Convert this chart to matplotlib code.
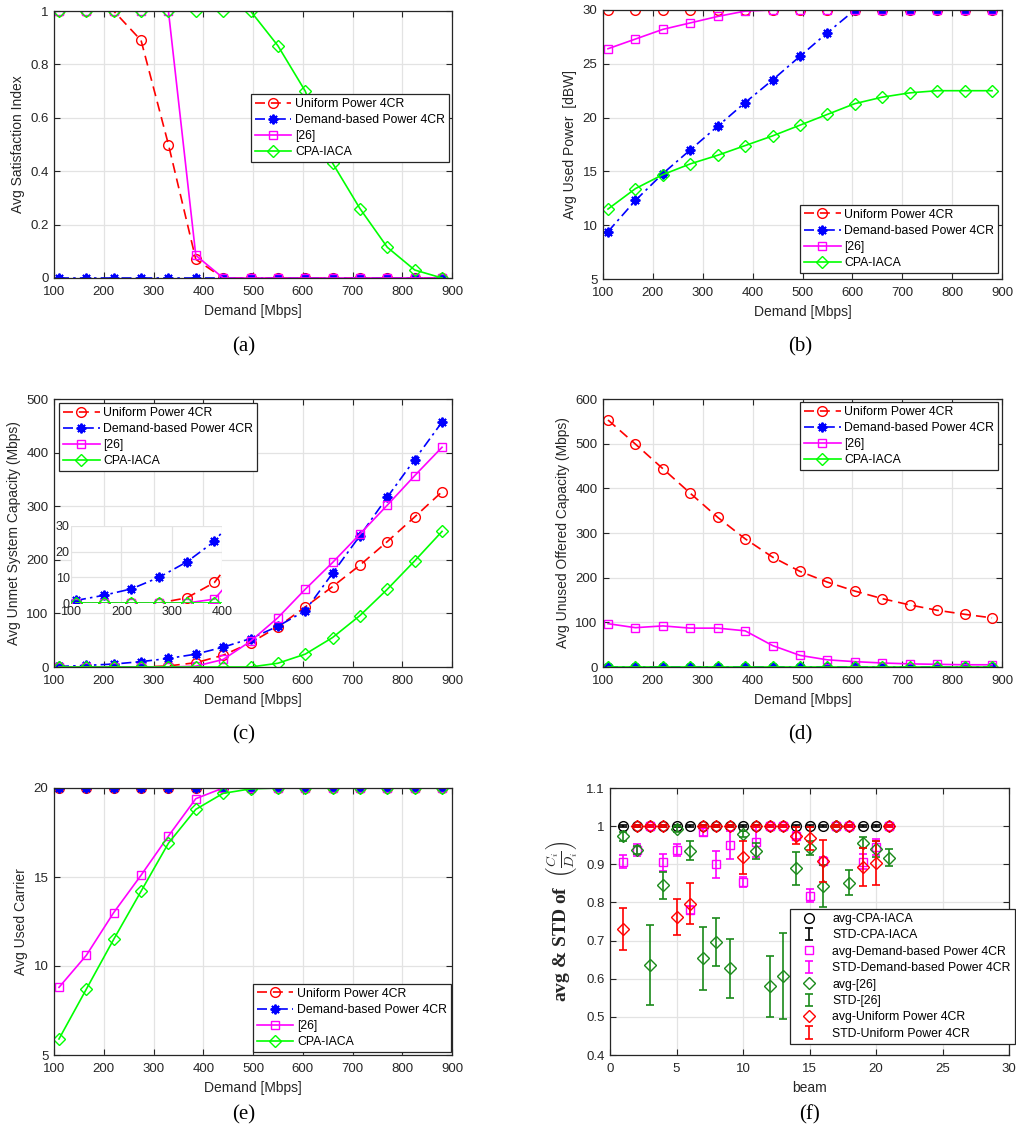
import numpy as np
import matplotlib
matplotlib.use('Agg')
import matplotlib.pyplot as plt

plt.rcParams['font.family'] = ['Liberation Sans', 'DejaVu Sans']
plt.rcParams['mathtext.fontset'] = 'cm'

# demand points [Mbps]
demand = [110, 165, 220, 275, 330, 385, 440, 495, 550, 605, 660, 715, 770, 825, 880]
labels = ['Uniform Power 4CR', 'Demand-based Power 4CR', '[26]', 'CPA-IACA']

# (a) Avg satisfaction index
sat_uni = [1, 1, 1, 0.89, 0.5, 0.07, 0, 0, 0, 0, 0, 0, 0, 0, 0]
sat_dem = [0] * 15
sat_26 = [1, 1, 1, 1, 1, 0.085, 0, 0, 0, 0, 0, 0, 0, 0, 0]
sat_cpa = [1, 1, 1, 1, 1, 1, 1, 1, 0.87, 0.70, 0.43, 0.26, 0.115, 0.03, 0]

# (b) Avg used power [dBW]
pow_uni = [30] * 15
pow_dem = [9.4, 12.3, 14.8, 17.0, 19.2, 21.4, 23.5, 25.7, 27.9, 30, 30, 30, 30, 30, 30]
pow_26 = [26.4, 27.3, 28.2, 28.8, 29.4, 29.9, 30, 30, 30, 30, 30, 30, 30, 30, 30]
pow_cpa = [11.5, 13.4, 14.7, 15.7, 16.5, 17.4, 18.3, 19.3, 20.3, 21.3, 21.9, 22.3, 22.5, 22.5, 22.5]

# (c) Avg unmet system capacity (Mbps)
unm_uni = [0, 0, 0, 0, 2, 8, 22, 45, 75, 112, 150, 190, 234, 280, 327]
unm_dem = [1, 3, 5.5, 10, 16, 24, 37, 53, 76, 105, 175, 245, 317, 387, 457]
unm_26 = [0, 0, 0, 0, 0, 1.5, 14, 48, 92, 145, 195, 248, 302, 357, 410]
unm_cpa = [0, 0, 0, 0, 0, 0, 0, 0, 7, 24, 55, 96, 145, 198, 253]

# (d) Avg unused offered capacity (Mbps)
unu_uni = [553, 499, 444, 389, 335, 287, 246, 214, 190, 170, 153, 139, 127, 118, 110]
unu_dem = [0] * 15
unu_26 = [97, 88, 92, 87, 87, 81, 48, 26, 16, 12, 9, 7, 6, 5, 5]
unu_cpa = [0] * 15

# (e) Avg used carrier
car_uni = [20] * 15
car_dem = [20] * 15
car_26 = [8.8, 10.6, 13.0, 15.1, 17.3, 19.4, 20, 20, 20, 20, 20, 20, 20, 20, 20]
car_cpa = [5.9, 8.7, 11.5, 14.2, 16.9, 18.8, 19.7, 19.95, 20, 20, 20, 20, 20, 20, 20]

# (f) per-beam avg & std of C_i/D_i
beams = list(range(1, 22))
avg_cpa = [1.0] * 21
std_cpa = [0.002] * 21
avg_dem = [0.907, 0.938, 1.0, 0.905, 0.937, 0.78, 0.985, 0.90, 0.95, 0.853, 0.958,
           1.0, 1.0, 0.975, 0.818, 0.908, 1.0, 1.0, 0.907, 0.945, 1.0]
std_dem = [0.018, 0.016, 0.002, 0.023, 0.015, 0.01, 0.012, 0.035, 0.037, 0.013, 0.04,
           0.002, 0.002, 0.01, 0.018, 0.01, 0.002, 0.002, 0.02, 0.02, 0.002]
avg_26 = [0.973, 0.938, 0.635, 0.845, 0.993, 0.935, 0.653, 0.696, 0.627, 0.98, 0.935,
          0.58, 0.607, 0.89, 0.943, 0.843, 1.0, 0.852, 0.957, 0.94, 0.917]
std_26 = [0.012, 0.01, 0.105, 0.035, 0.008, 0.025, 0.083, 0.063, 0.078, 0.008, 0.02,
          0.08, 0.113, 0.043, 0.018, 0.055, 0.002, 0.033, 0.015, 0.02, 0.022]
avg_uni = [0.73, 1.0, 1.0, 1.0, 0.762, 0.797, 1.0, 1.0, 1.0, 0.918, 1.0,
           1.0, 1.0, 0.975, 0.968, 0.908, 1.0, 1.0, 0.893, 0.903, 1.0]
std_uni = [0.055, 0.002, 0.002, 0.002, 0.048, 0.053, 0.002, 0.002, 0.002, 0.043, 0.002,
           0.002, 0.002, 0.022, 0.03, 0.055, 0.002, 0.002, 0.05, 0.057, 0.002]

W, H = 1016, 1138
fig = plt.figure(figsize=(W / 100, H / 100), dpi=100)
FS = 10
TFS = 9.5
LFS = 8.8
AX_COL = (0.15, 0.15, 0.15)
MAG = '#ff00ff'


def px_axes(l, t, r, b):
    return fig.add_axes([l / W, 1 - b / H, (r - l) / W, (b - t) / H])


def style(ax, fs=TFS, xpad=6, ypad=4):
    ax.grid(True, color=(0.89, 0.89, 0.89), linewidth=0.9)
    ax.set_axisbelow(True)
    ax.tick_params(direction='in', top=True, right=True, length=4,
                   labelsize=fs, colors=AX_COL, width=0.8)
    ax.tick_params(axis='x', pad=xpad)
    ax.tick_params(axis='y', pad=ypad)
    for s in ax.spines.values():
        s.set_color(AX_COL)
        s.set_linewidth(0.9)


styles = [
    dict(color='r', linestyle=(0, (6, 3.5)), marker='o', ms=7),
    dict(color='b', linestyle=(0, (6, 2.5, 1.5, 2.5)), marker=(8, 2, 0), ms=7, mew=1.4),
    dict(color=MAG, linestyle='-', marker='s', ms=6),
    dict(color=(0, 1, 0), linestyle='-', marker='D', ms=6),
]


def draw_lines(ax, series):
    for ys, st, lab in zip(series, styles, labels):
        kw = dict(st)
        kw.setdefault('mew', 1.0)
        ax.plot(demand, ys, label=lab, linewidth=1.2, markerfacecolor='none', **kw)


def legend(ax, loc, anchor):
    lg = ax.legend(loc=loc, bbox_to_anchor=anchor, fontsize=LFS, frameon=True,
                   fancybox=False, framealpha=1, edgecolor=AX_COL,
                   handlelength=3.0, handletextpad=0.3, borderaxespad=0,
                   labelspacing=0.34, borderpad=0.32)
    lg.get_frame().set_linewidth(0.9)
    return lg


def caption(x, y, s):
    fig.text(x / W, 1 - y / H, s, ha='center', va='center',
             family='Liberation Serif', fontsize=15)


xt = np.arange(100, 901, 100)

# (a)
ax = px_axes(54, 11, 452, 278)
draw_lines(ax, [sat_uni, sat_dem, sat_26, sat_cpa])
ax.set_xlim(100, 900)
ax.set_ylim(0, 1)
ax.set_xticks(xt)
ax.set_yticks(np.arange(0, 1.01, 0.2))
ax.set_yticklabels(['0', '0.2', '0.4', '0.6', '0.8', '1'])
style(ax)
ax.set_xlabel('Demand [Mbps]', fontsize=FS, color=AX_COL)
ax.set_ylabel('Avg Satisfaction Index', fontsize=FS, color=AX_COL)
legend(ax, 'upper right', (0.992, 0.689))
caption(244, 347, '(a)')

# (b)
ax = px_axes(603, 10, 1002, 279)
draw_lines(ax, [pow_uni, pow_dem, pow_26, pow_cpa])
ax.set_xlim(100, 900)
ax.set_ylim(5, 30)
ax.set_xticks(xt)
ax.set_yticks(np.arange(5, 31, 5))
style(ax)
ax.set_xlabel('Demand [Mbps]', fontsize=FS, color=AX_COL)
ax.set_ylabel('Avg Used Power  [dBW]', fontsize=FS, color=AX_COL)
legend(ax, 'lower right', (0.99, 0.022))
caption(800, 347, '(b)')

# (c)
ax = px_axes(54, 399, 452, 667)
draw_lines(ax, [unm_uni, unm_dem, unm_26, unm_cpa])
ax.set_xlim(100, 900)
ax.set_ylim(0, 500)
ax.set_xticks(xt)
ax.set_yticks(np.arange(0, 501, 100))
style(ax)
ax.set_xlabel('Demand [Mbps]', fontsize=FS, color=AX_COL)
ax.set_ylabel('Avg Unmet System Capacity (Mbps)', fontsize=FS, color=AX_COL)
legend(ax, 'upper left', (0.013, 0.985))
ins = px_axes(71, 526, 222, 603)
draw_lines(ins, [unm_uni, unm_dem, unm_26, unm_cpa])
ins.set_xlim(100, 400)
ins.set_ylim(0, 30)
ins.set_xticks([100, 200, 300, 400])
ins.set_yticks([0, 10, 20, 30])
style(ins, fs=9, xpad=2, ypad=1)
ins.tick_params(length=0)
for s in ins.spines.values():
    s.set_visible(False)
caption(244, 735, '(c)')

# (d)
ax = px_axes(603, 399, 1002, 667)
draw_lines(ax, [unu_uni, unu_dem, unu_26, unu_cpa])
ax.set_xlim(100, 900)
ax.set_ylim(0, 600)
ax.set_xticks(xt)
ax.set_yticks(np.arange(0, 601, 100))
style(ax)
ax.set_xlabel('Demand [Mbps]', fontsize=FS, color=AX_COL)
ax.set_ylabel('Avg Unused Offered Capacity (Mbps)', fontsize=FS, color=AX_COL)
legend(ax, 'upper right', (0.99, 0.989))
caption(800, 735, '(d)')

# (e)
ax = px_axes(54, 788, 452, 1055)
draw_lines(ax, [car_uni, car_dem, car_26, car_cpa])
ax.set_xlim(100, 900)
ax.set_ylim(5, 20)
ax.set_xticks(xt)
ax.set_yticks([5, 10, 15, 20])
style(ax)
ax.set_xlabel('Demand [Mbps]', fontsize=FS, color=AX_COL)
ax.set_ylabel('Avg Used Carrier', fontsize=FS, color=AX_COL)
legend(ax, 'lower right', (0.997, 0.011))
caption(244, 1115, '(e)')

# (f)
ax = px_axes(610, 788, 1009, 1055)
green = '#1a8a1a'
groups = [
    ('CPA-IACA', avg_cpa, std_cpa, 'k', 'o', 7),
    ('Demand-based Power 4CR', avg_dem, std_dem, MAG, 's', 6),
    ('[26]', avg_26, std_26, green, 'D', 6),
    ('Uniform Power 4CR', avg_uni, std_uni, 'r', 'D', 6),
]
handles = []
for name, av, sd, col, mk, ms in groups:
    eb = ax.errorbar(beams, av, yerr=sd, fmt='none', ecolor=col, elinewidth=1.2,
                     capsize=3.2, capthick=1.2, label='STD-' + name)
    pt, = ax.plot(beams, av, linestyle='none', marker=mk, ms=ms, mfc='none',
                  mec=col, mew=1.0, label='avg-' + name)
    handles += [pt, eb]
ax.set_xlim(0, 30)
ax.set_ylim(0.4, 1.1)
ax.set_xticks(np.arange(0, 31, 5))
ax.set_yticks(np.arange(0.4, 1.11, 0.1))
ax.set_yticklabels(['0.4', '0.5', '0.6', '0.7', '0.8', '0.9', '1', '1.1'])
style(ax)
ax.set_xlabel('beam', fontsize=FS, color=AX_COL)
ax.set_ylabel(r'avg & STD of  $\left(\frac{C_i}{D_i}\right)$', fontsize=14,
              family='Liberation Serif', fontweight='bold', color=AX_COL,
              labelpad=4)
lg = ax.legend(handles=handles, loc='lower left', bbox_to_anchor=(0.451, 0.041),
               fontsize=LFS, frameon=True, fancybox=False, framealpha=1,
               edgecolor=AX_COL, handlelength=2.4, handletextpad=0.7,
               borderaxespad=0, labelspacing=0.36, borderpad=0.35)
lg.get_frame().set_linewidth(0.9)
caption(810, 1115, '(f)')

fig.savefig('out.png', dpi=100)
